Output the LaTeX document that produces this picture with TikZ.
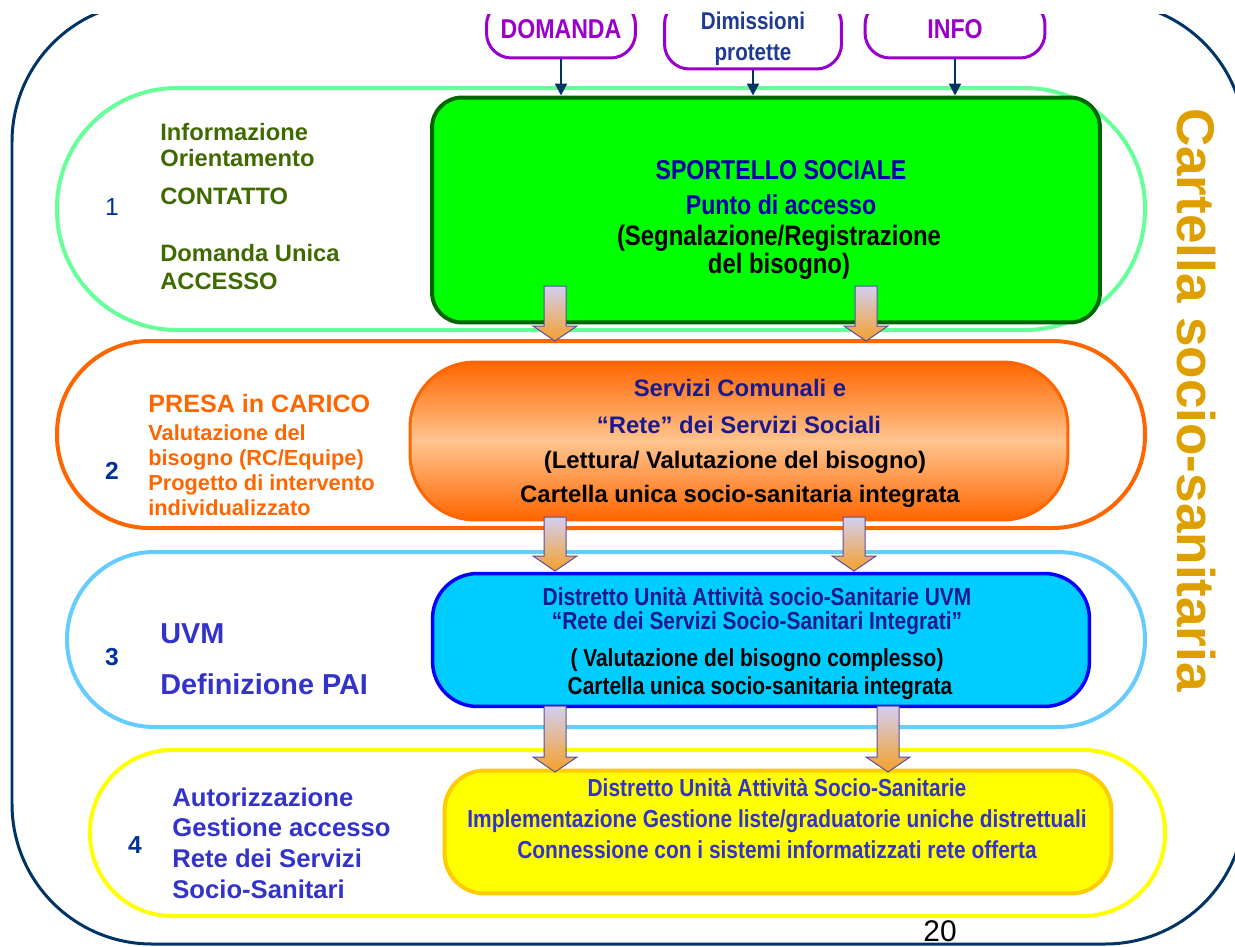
\documentclass[tikz,border=0pt]{standalone}
\usepackage{fontspec}
\setmainfont{Liberation Sans}
\newfontfamily\narrowfont{Liberation Sans}[FakeStretch=0.85]
\usetikzlibrary{arrows.meta}
\definecolor{frameblue}{HTML}{003366}
\definecolor{inviola}{HTML}{9900CC}
\definecolor{bandgreen}{HTML}{66FF99}
\definecolor{bandorange}{HTML}{FF6600}
\definecolor{bandblue}{HTML}{66CCFF}
\definecolor{bandyellow}{HTML}{FFFF00}
\definecolor{boxgreen}{HTML}{00FF00}
\definecolor{boxgreenline}{HTML}{006600}
\definecolor{orangelight}{HTML}{FFC48F}
\definecolor{boxblue}{HTML}{00CCFF}
\definecolor{boxblueline}{HTML}{0000FF}
\definecolor{boxyellowline}{HTML}{FFCC00}
\definecolor{olive}{HTML}{3F6A00}
\definecolor{indaco}{HTML}{3333CC}
\definecolor{numblue}{HTML}{003399}
\definecolor{titleblue}{HTML}{0000AA}
\definecolor{darknavy}{HTML}{1A1A8C}
\definecolor{dimblue}{HTML}{1F3A93}
\definecolor{gold}{HTML}{DDA000}
\definecolor{lavcol}{HTML}{D2CFF2}
\definecolor{arrorange}{HTML}{F5A02A}
\definecolor{arrline}{HTML}{5A4E9A}
\newcommand\fsz[2]{\fontsize{#1}{#2}\selectfont\bfseries}
\newcommand\fatarrow[3]{%
  \shade[fatarr] (#1-11,#2) -- (#1+11,#2) -- (#1+11,#3-15) -- (#1+22,#3-15)
    -- (#1,#3) -- (#1-22,#3-15) -- (#1-11,#3-15) -- cycle;}

\begin{document}
\begin{tikzpicture}[x=0.02cm,y=-0.02cm,
  band/.style={draw=#1,line width=0.08cm},
  inbox/.style={draw=inviola,line width=0.06cm,rounded corners=0.5cm,fill=white,
    align=center,inner sep=0pt},
  feed/.style={frameblue,line width=0.045cm,-{Triangle[length=0.24cm,width=0.24cm]}},
  fatarr/.style={top color=lavcol,bottom color=arrorange,draw=arrline,line width=0.02cm},
  lbl/.style={anchor=west,align=left,inner sep=0pt},
  mid/.style={align=center,inner sep=0pt},
  num/.style={text=numblue,inner sep=0pt,font=\fsz{14}{14}}]

\useasboundingbox (0,0) rectangle (1235,947);
\begin{scope}
  \clip (0,14) rectangle (1235,947);
  \draw[frameblue,line width=0.06cm,rounded corners=2.8cm] (12,2) rectangle (1245,944);

  \draw[band=bandgreen,rounded corners=2.4cm] (57,88) rectangle (1145,330);
  \draw[band=bandorange,rounded corners=1.85cm] (57,341) rectangle (1145,528);
  \draw[band=bandblue,rounded corners=1.74cm] (67,552) rectangle (1145,727);
  \draw[band=bandyellow,rounded corners=1.64cm] (90,750) rectangle (1165,916);

  \node[inbox,minimum width=2.98cm,minimum height=1.16cm,text=inviola,
    font=\narrowfont\fsz{15.5}{16}] (domanda) at (561,29) {DOMANDA};
  \node[inbox,minimum width=3.54cm,minimum height=1.4cm] (dimissioni) at (753,34) {};
  \node[inbox,minimum width=3.6cm,minimum height=1.16cm,text=inviola,
    font=\narrowfont\fsz{15.5}{16}] (info) at (955,29) {INFO};
\end{scope}
\node[mid,text=dimblue,font=\narrowfont\fsz{13.8}{17.5}] (dimtext) at (753,39) {Dimissioni\\protette};

\node[draw=boxgreenline,fill=boxgreen,line width=0.08cm,rounded corners=0.6cm,
  minimum width=13.36cm,minimum height=4.5cm] (sportello) at (766,210) {};
\node[draw=bandorange,top color=bandorange,bottom color=bandorange,middle color=orangelight,
  line width=0.06cm,rounded corners=1.3cm,
  minimum width=13.16cm,minimum height=3.16cm] (servizi) at (739,441) {};
\node[draw=boxblueline,fill=boxblue,line width=0.07cm,rounded corners=0.9cm,
  minimum width=13.14cm,minimum height=2.66cm] (uvmbox) at (761,640) {};
\node[draw=boxyellowline,fill=bandyellow,line width=0.08cm,rounded corners=0.8cm,
  minimum width=13.34cm,minimum height=2.46cm] (liste) at (778,832) {};

\draw[feed] (domanda.south) -- (domanda.south |- sportello.north);
\draw[feed] (dimissioni.south) -- (dimissioni.south |- sportello.north);
\draw[feed] (info.south) -- (info.south |- sportello.north);

\fatarrow{555}{286}{341}
\fatarrow{866}{286}{341}
\fatarrow{555}{517}{571}
\fatarrow{854}{517}{571}
\fatarrow{555}{706}{772}
\fatarrow{888}{706}{772}

% livello 1
\node[num,font=\fontsize{14}{14}\selectfont] (n1) at (112,207) {1};
\node[lbl,olive,font=\fsz{13.5}{15.3}] (orient) at (160,145) {Informazione\\Orientamento};
\node[lbl,olive,font=\fsz{13.5}{15.3}] (contatto) at (160,196) {CONTATTO};
\node[lbl,olive,font=\fsz{13.5}{15.8}] (accesso) at (160,267) {Domanda Unica\\ACCESSO};
\node[mid,titleblue,font=\narrowfont\fsz{15.5}{16}] (sp1) at (781,170) {SPORTELLO SOCIALE};
\node[mid,titleblue,font=\narrowfont\fsz{15.5}{16}] (sp2) at (781,205) {Punto di accesso};
\node[mid,black,font=\narrowfont\fsz{16}{15.9}] (sp3) at (779,252)
  {(Segnalazione/Registrazione\\del bisogno)};

% livello 2
\node[num] (n2) at (112,471) {2};
\node[lbl,bandorange,font=\fsz{14.3}{15}] (presa) at (148,404) {PRESA in CARICO};
\node[lbl,bandorange,font=\fsz{12.4}{14.2}] (valut) at (148,470)
  {Valutazione del\\bisogno (RC/Equipe)\\Progetto di intervento\\individualizzato};
\node[mid,darknavy,font=\fsz{13.6}{14}] (sv1) at (740,388) {Servizi Comunali e};
\node[mid,darknavy,font=\fsz{13.6}{14}] (sv2) at (739,425) {“Rete” dei Servizi Sociali};
\node[mid,black,font=\fsz{13.6}{14}] (sv3) at (735,462) {(Lettura/ Valutazione del bisogno)};
\node[mid,black,font=\fsz{13.6}{14}] (sv4) at (740,496) {Cartella unica socio-sanitaria integrata};

% livello 3
\node[num] (n3) at (112,657) {3};
\node[lbl,indaco,font=\fsz{16.4}{17}] (uvm) at (160,634) {UVM};
\node[lbl,indaco,font=\fsz{16.4}{17}] (pai) at (160,684) {Definizione PAI};
\node[mid,darknavy,font=\narrowfont\fsz{14}{14}] (ds1) at (757,597) {Distretto Unità Attività socio-Sanitarie UVM};
\node[mid,darknavy,font=\narrowfont\fsz{14}{14}] (ds2) at (757,623) {“Rete dei Servizi Socio-Sanitari Integrati”};
\node[mid,black,font=\narrowfont\fsz{14}{14}] (ds3) at (757,660) {( Valutazione del bisogno complesso)};
\node[mid,black,font=\narrowfont\fsz{14}{14}] (ds4) at (760,688) {Cartella unica socio-sanitaria integrata};

% livello 4
\node[num] (n4) at (135,845) {4};
\node[lbl,indaco,font=\fsz{14.6}{17.4}] (autor) at (172,843)
  {Autorizzazione\\Gestione accesso\\Rete dei Servizi\\Socio-Sanitari};
\node[mid,indaco,font=\narrowfont\fsz{14}{17.6}] (dist) at (777,819)
  {Distretto Unità Attività Socio-Sanitarie\\Implementazione Gestione liste/graduatorie uniche distrettuali\\Connessione con i sistemi informatizzati rete offerta};

\node[gold,rotate=-90,inner sep=0pt,font=\fsz{30.2}{31}] (cartella) at (1196,400) {Cartella socio-sanitaria};
\node[inner sep=0pt,font=\fontsize{17}{17}\selectfont] (pagina) at (940,931) {20};
\end{tikzpicture}
\end{document}
